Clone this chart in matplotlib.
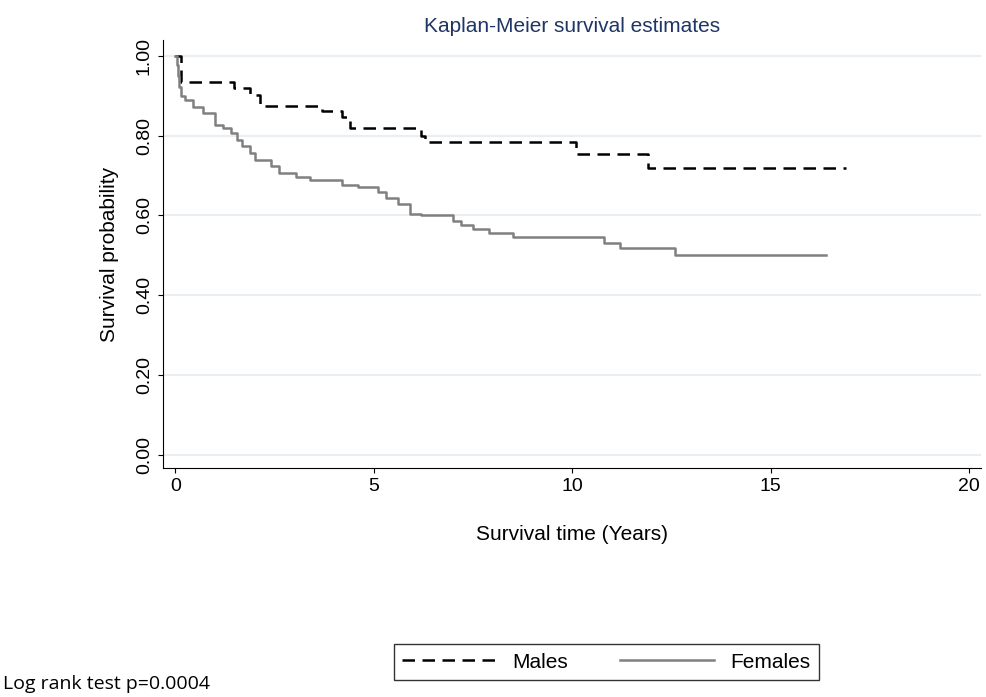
import matplotlib
matplotlib.use('Agg')
import matplotlib.pyplot as plt

plt.rcParams['font.family'] = ['Liberation Sans', 'DejaVu Sans']

# Kaplan-Meier step data
male_t = [0, 0.14, 1.47, 1.88, 2.13, 3.7, 4.2, 4.4, 6.2, 6.3, 10.1, 11.9, 16.9]
male_s = [1.00, 0.934, 0.919, 0.902, 0.875, 0.862, 0.848, 0.82, 0.80, 0.784, 0.755, 0.718, 0.718]

female_t = [0, 0.03, 0.06, 0.1, 0.15, 0.25, 0.45, 0.7, 1.0, 1.2, 1.4, 1.55, 1.67,
            1.88, 2.0, 2.4, 2.6, 3.05, 3.4, 4.2, 4.6, 5.1, 5.3, 5.6, 5.9, 6.2,
            7.0, 7.2, 7.5, 7.9, 8.5, 10.8, 11.2, 12.6, 16.4]
female_s = [1.00, 0.977, 0.95, 0.923, 0.90, 0.89, 0.873, 0.856, 0.827, 0.819, 0.806,
            0.79, 0.773, 0.756, 0.739, 0.723, 0.706, 0.697, 0.689, 0.677, 0.672,
            0.66, 0.645, 0.63, 0.605, 0.60, 0.585, 0.575, 0.565, 0.555, 0.545,
            0.532, 0.518, 0.50, 0.50]

x_ticks = [0, 5, 10, 15, 20]
y_ticks = [0, 0.2, 0.4, 0.6, 0.8, 1.0]

fig = plt.figure(figsize=(9.86, 6.97), dpi=100)
ax = fig.add_axes([0.165, 0.3286, 0.83, 0.614])

ax.step(male_t, male_s, where='post', color='black', lw=1.8, ls=(0, (5, 3)), label='Males')
ax.step(female_t, female_s, where='post', color='#808080', lw=1.8, label='Females')

ax.set_xlim(-0.32, 20.3)
ax.set_ylim(-0.033, 1.04)
ax.set_xticks(x_ticks)
ax.set_yticks(y_ticks)
ax.set_yticklabels([f'{v:.2f}' for v in y_ticks], rotation=90, va='center')
ax.tick_params(labelsize=14)
ax.grid(axis='y', color='#e8eef2', lw=1.5)
ax.set_axisbelow(True)
for s in ['top', 'right']:
    ax.spines[s].set_visible(False)

ax.set_title('Kaplan-Meier survival estimates', color='#1f3566', fontsize=15)
ax.set_xlabel('Survival time (Years)', fontsize=15, labelpad=22)
ax.set_ylabel('Survival probability', fontsize=15, labelpad=12)

fig.legend(loc='center', bbox_to_anchor=(0.615, 0.05), ncol=2, fontsize=15,
           frameon=True, fancybox=False, edgecolor='black', handlelength=4.5,
           columnspacing=2.5)
fig.text(0.003, 0.012, 'Log rank test p=0.0004', fontsize=14, family='Open Sans')

fig.savefig('out.png', dpi=100)
